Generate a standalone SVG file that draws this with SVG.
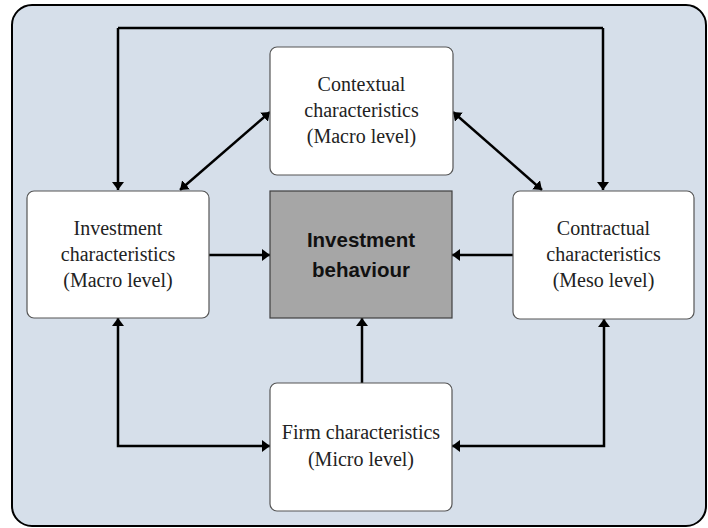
<svg xmlns="http://www.w3.org/2000/svg" width="708" height="528" viewBox="0 0 708 528">
  <defs>
    <marker id="arrow" viewBox="0 0 8 12" refX="8" refY="6" markerWidth="8" markerHeight="12" markerUnits="userSpaceOnUse" orient="auto-start-reverse">
      <path d="M0,0 L8,6 L0,12 Z" fill="#000"/>
    </marker>
    <style>
      .frame { fill: #d6dfea; stroke: #000; stroke-width: 2; }
      .box { fill: #fff; stroke: #555; stroke-width: 1.2; }
      .core { fill: #a6a6a6; stroke: #404040; stroke-width: 1.2; }
      .lbl { font-family: "Liberation Serif", "Times New Roman", serif; font-size: 20px; fill: #222; text-anchor: middle; }
      .core-lbl { font-family: "Liberation Sans", Arial, sans-serif; font-weight: bold; font-size: 20.5px; fill: #111; text-anchor: middle; }
      .link { fill: none; stroke: #000; stroke-width: 2.5; }
    </style>
  </defs>

  <rect class="frame" x="12" y="5" width="694" height="521" rx="20"/>

  <g id="connectors">
    <!-- top loop feeding investment and contractual nodes -->
    <path class="link" d="M118,28 L603,28" />
    <path class="link" d="M118,28 L118,190" marker-end="url(#arrow)"/>
    <path class="link" d="M603,28 L603,190" marker-end="url(#arrow)"/>
    <!-- diagonal two-way links to contextual node -->
    <path class="link" d="M180,190 L270,112" marker-start="url(#arrow)" marker-end="url(#arrow)"/>
    <path class="link" d="M542,190 L453,112" marker-start="url(#arrow)" marker-end="url(#arrow)"/>
    <!-- links into the core -->
    <path class="link" d="M209,255 L270,255" marker-end="url(#arrow)"/>
    <path class="link" d="M513,255 L452,255" marker-end="url(#arrow)"/>
    <path class="link" d="M362,383 L362,318" marker-end="url(#arrow)"/>
    <!-- bottom two-way elbows -->
    <path class="link" d="M118,318 L118,446 L270,446" marker-start="url(#arrow)" marker-end="url(#arrow)"/>
    <path class="link" d="M604,319 L604,446 L452,446" marker-start="url(#arrow)" marker-end="url(#arrow)"/>
  </g>

  <g id="contextual">
    <rect class="box" x="270" y="47" width="183" height="128" rx="7"/>
    <text class="lbl" x="361.5" y="91">Contextual</text>
    <text class="lbl" x="361.5" y="117">characteristics</text>
    <text class="lbl" x="361.5" y="143">(Macro level)</text>
  </g>

  <g id="investment">
    <rect class="box" x="27" y="191" width="182" height="127" rx="7"/>
    <text class="lbl" x="118" y="235">Investment</text>
    <text class="lbl" x="118" y="261">characteristics</text>
    <text class="lbl" x="118" y="287">(Macro level)</text>
  </g>

  <g id="behaviour">
    <rect class="core" x="270" y="191" width="182" height="127"/>
    <text class="core-lbl" x="361" y="247">Investment</text>
    <text class="core-lbl" x="361" y="277">behaviour</text>
  </g>

  <g id="contractual">
    <rect class="box" x="513" y="191" width="181" height="128" rx="7"/>
    <text class="lbl" x="603.5" y="235">Contractual</text>
    <text class="lbl" x="603.5" y="261">characteristics</text>
    <text class="lbl" x="603.5" y="287">(Meso level)</text>
  </g>

  <g id="firm">
    <rect class="box" x="270" y="383" width="182" height="128" rx="7"/>
    <text class="lbl" x="361" y="439">Firm characteristics</text>
    <text class="lbl" x="361" y="466">(Micro level)</text>
  </g>
</svg>
